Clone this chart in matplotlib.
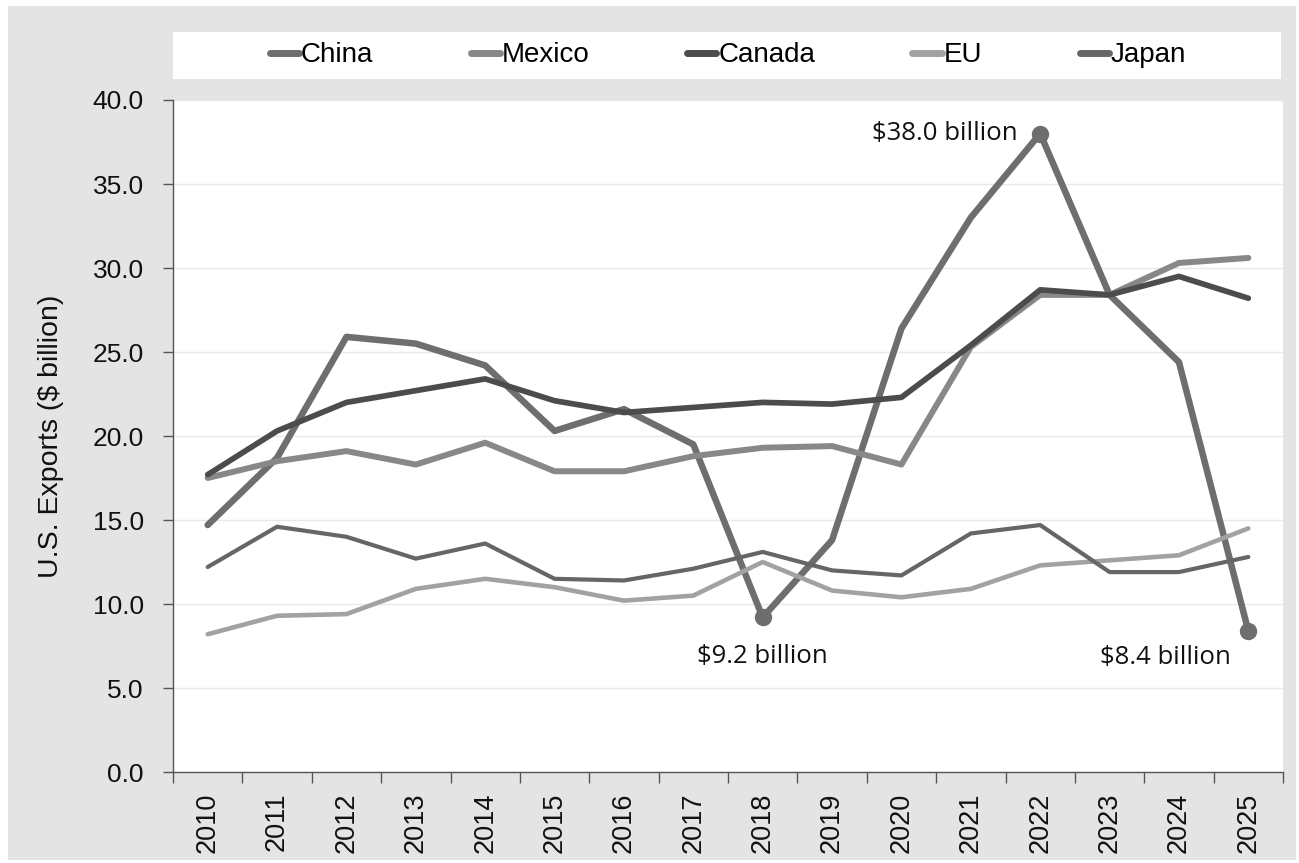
import matplotlib.pyplot as plt
from matplotlib.patches import Rectangle
from matplotlib.ticker import FormatStrFormatter, FixedLocator

years = list(range(2010, 2026))

china = [14.7, 18.7, 25.9, 25.5, 24.2, 20.3, 21.6, 19.5, 9.2, 13.8, 26.4, 33.0, 38.0, 28.4, 24.4, 8.4]
mexico = [17.5, 18.5, 19.1, 18.3, 19.6, 17.9, 17.9, 18.8, 19.3, 19.4, 18.3, 25.3, 28.4, 28.4, 30.3, 30.6]
canada = [17.7, 20.3, 22.0, 22.7, 23.4, 22.1, 21.4, 21.7, 22.0, 21.9, 22.3, 25.4, 28.7, 28.4, 29.5, 28.2]
eu = [8.2, 9.3, 9.4, 10.9, 11.5, 11.0, 10.2, 10.5, 12.5, 10.8, 10.4, 10.9, 12.3, 12.6, 12.9, 14.5]
japan = [12.2, 14.6, 14.0, 12.7, 13.6, 11.5, 11.4, 12.1, 13.1, 12.0, 11.7, 14.2, 14.7, 11.9, 11.9, 12.8]

# China points that get a callout
callout_years = [2018, 2022, 2025]

W, H = 1299, 863
fig = plt.figure(figsize=(W / 100, H / 100), dpi=100, facecolor='white')

# gray panel behind everything, white legend strip on top of it
fig.patches.append(Rectangle((8 / W, 3 / H), 1288 / W, 854 / H, transform=fig.transFigure,
                             facecolor='#e4e4e4', edgecolor='none', zorder=-3))
fig.patches.append(Rectangle((173 / W, 1 - 79 / H), 1108 / W, 47 / H, transform=fig.transFigure,
                             facecolor='white', edgecolor='none', zorder=-2))

ax = fig.add_axes([173 / W, 1 - 772 / H, 1110 / W, 672 / H])
ax.set_facecolor('white')

x = list(range(len(years)))
series = [
    ('China', china, '#6e6e6e', 4.7),
    ('Mexico', mexico, '#888888', 4.3),
    ('Canada', canada, '#4c4c4c', 4.1),
    ('EU', eu, '#a2a2a2', 3.3),
    ('Japan', japan, '#666666', 3.0),
]
for name, vals, col, lw in series:
    ax.plot(x, vals, color=col, lw=lw, label=name, solid_joinstyle='round',
            solid_capstyle='round', zorder=3)

china_col = series[0][2]
for yr in callout_years:
    i = years.index(yr)
    ax.plot(i, china[i], 'o', color=china_col, markersize=11.5, zorder=4)

annot_font = ['Open Sans', 'DejaVu Sans']
fs = 18.5
i = years.index(2022)
ax.annotate(f'${china[i]:.1f} billion', (i, china[i]), xytext=(-16, 0), textcoords='offset points',
            ha='right', va='center', fontsize=fs, family=annot_font, color='#111111')
i = years.index(2018)
ax.annotate(f'${china[i]:.1f} billion', (i, china[i]), xytext=(0, -28), textcoords='offset points',
            ha='center', va='center', fontsize=fs, family=annot_font, color='#111111')
i = years.index(2025)
ax.annotate(f'${china[i]:.1f} billion', (i, china[i]), xytext=(-60, -19), textcoords='offset points',
            ha='center', va='center', fontsize=fs, family=annot_font, color='#111111')

ax.set_xlim(-0.5, len(years) - 0.5)
ax.set_ylim(0, 40)
ax.set_yticks([0, 5, 10, 15, 20, 25, 30, 35, 40])
ax.yaxis.set_major_formatter(FormatStrFormatter('%.1f'))
ax.grid(axis='y', color='#e8e8e8', lw=1.0, zorder=0)

ax.set_xticks(x)
ax.set_xticklabels([str(y) for y in years], rotation=90)
ax.xaxis.set_minor_locator(FixedLocator([v - 0.5 for v in range(len(years) + 1)]))
ax.tick_params(axis='x', which='major', length=0, pad=15, labelsize=19.5)
ax.tick_params(axis='x', which='minor', length=8, width=1, color='#555555')
ax.tick_params(axis='y', length=7, width=1, color='#555555', labelsize=19, pad=14)

for side in ['top', 'right']:
    ax.spines[side].set_visible(False)
for side in ['left', 'bottom']:
    ax.spines[side].set_color('#555555')
    ax.spines[side].set_linewidth(1)

for lbl in ax.get_xticklabels() + ax.get_yticklabels():
    lbl.set_family(['Liberation Sans', 'DejaVu Sans'])
    lbl.set_color('#111111')

ax.set_ylabel('U.S. Exports ($ billion)', fontsize=20.5, family=['Liberation Sans', 'DejaVu Sans'],
              color='#111111')
ax.yaxis.set_label_coords((64 - 173) / 1110, 0.5)

# legend sits in the white strip above the plot
leg = ax.legend(loc='center', bbox_to_anchor=(0.5, (772 - 55.5) / 672), ncol=5,
                frameon=False, handlelength=1.05, handletextpad=0.08, columnspacing=3.5,
                prop={'family': ['Liberation Sans Narrow', 'Liberation Sans', 'DejaVu Sans'], 'size': 20})
for h in leg.get_lines():
    h.set_solid_capstyle('round')
    h.set_linewidth(5)

fig.savefig('out.png', dpi=100, facecolor=fig.get_facecolor())
